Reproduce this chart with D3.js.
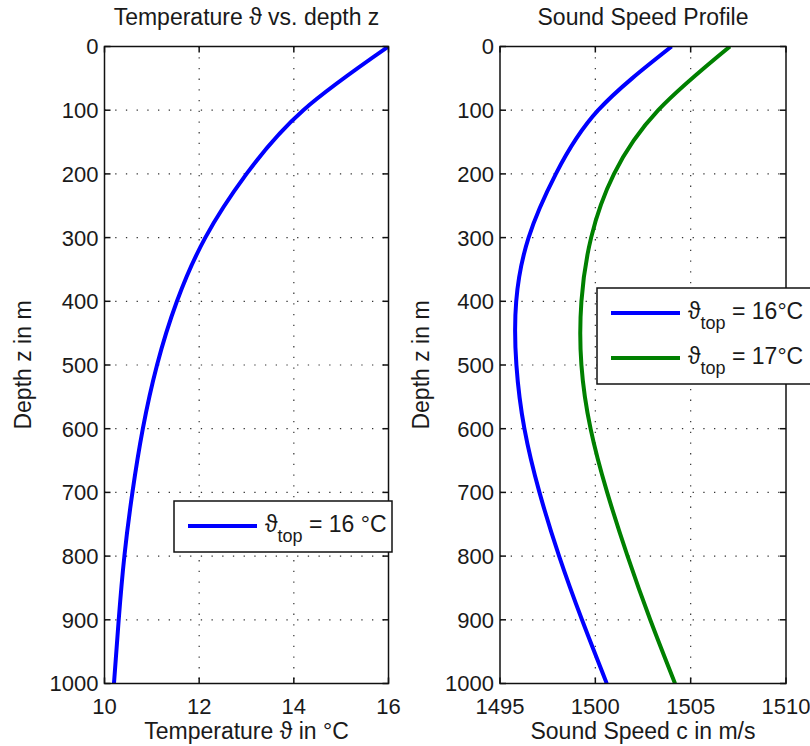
<!DOCTYPE html>
<html>
<head>
<meta charset="utf-8">
<script src="https://cdn.jsdelivr.net/npm/d3@7"></script>
<style>
  html, body { margin: 0; padding: 0; background: #fff; }
  svg text { font-family: "Liberation Sans", Arial, Helvetica, "DejaVu Sans", sans-serif; fill: #1a1a1a; }
</style>
</head>
<body>
<script>
// depth samples (m) and the values
const depth = [0, 100, 200, 300, 400, 500, 600, 700, 800, 900, 1000];
const tempTop16 = [16, 14.2, 13.0, 12.13, 11.53, 11.11, 10.81, 10.59, 10.42, 10.3, 10.2];
const speedTop16 = [1504.0, 1500.15, 1497.93, 1496.5, 1495.85, 1495.86, 1496.28, 1497.07, 1498.1, 1499.3, 1500.6];
const speedTop17 = [1507.06, 1503.3, 1500.98, 1499.78, 1499.27, 1499.27, 1499.75, 1500.62, 1501.69, 1502.88, 1504.18];

const depthTicks = [0, 100, 200, 300, 400, 500, 600, 700, 800, 900, 1000];
const tempTicks = [10, 12, 14, 16];
const speedTicks = [1495, 1500, 1505, 1510];

const width = 810, height = 746;
const plotTop = 46.5, plotBottom = 683.5;
const tickLen = 6;

const svg = d3.select("body").append("svg")
  .attr("width", width)
  .attr("height", height);

function drawPanel({ left, right, domain, xTicks, title, xLabel, yLabelX, series, id }) {
  const x = d3.scaleLinear().domain(domain).range([left, right]);
  const y = d3.scaleLinear().domain([0, 1000]).range([plotTop, plotBottom]);
  const g = svg.append("g");

  // dotted grid
  g.append("g").selectAll("line")
    .data(xTicks.slice(1, -1))
    .join("line")
    .attr("x1", d => x(d)).attr("x2", d => x(d))
    .attr("y1", plotTop).attr("y2", plotBottom)
    .attr("stroke", "#333").attr("stroke-width", 1.2)
    .attr("stroke-dasharray", "1.3,9.4");
  g.append("g").selectAll("line")
    .data(depthTicks.slice(1, -1))
    .join("line")
    .attr("x1", left).attr("x2", right)
    .attr("y1", d => y(d)).attr("y2", d => y(d))
    .attr("stroke", "#333").attr("stroke-width", 1.2)
    .attr("stroke-dasharray", "1.3,9.4");

  // clip the curves to the axes box
  svg.append("clipPath").attr("id", id)
    .append("rect")
    .attr("x", left).attr("y", plotTop)
    .attr("width", right - left).attr("height", plotBottom - plotTop);

  // evenly spaced depths, so a natural spline keeps y linear
  const line = d3.line()
    .x(d => x(d[1]))
    .y(d => y(d[0]))
    .curve(d3.curveNatural);

  series.forEach(s => {
    g.append("path")
      .datum(depth.map((z, i) => [z, s.values[i]]))
      .attr("clip-path", `url(#${id})`)
      .attr("fill", "none")
      .attr("stroke", s.color)
      .attr("stroke-width", 4)
      .attr("stroke-linejoin", "round")
      .attr("d", line);
  });

  // box and inward ticks on all four sides
  g.append("rect")
    .attr("x", left).attr("y", plotTop)
    .attr("width", right - left).attr("height", plotBottom - plotTop)
    .attr("fill", "none").attr("stroke", "#111").attr("stroke-width", 1.5);

  const ticks = g.append("g").attr("stroke", "#111").attr("stroke-width", 1.5);
  xTicks.forEach(t => {
    ticks.append("line").attr("x1", x(t)).attr("x2", x(t)).attr("y1", plotBottom).attr("y2", plotBottom - tickLen);
    ticks.append("line").attr("x1", x(t)).attr("x2", x(t)).attr("y1", plotTop).attr("y2", plotTop + tickLen);
  });
  depthTicks.forEach(t => {
    ticks.append("line").attr("x1", left).attr("x2", left + tickLen).attr("y1", y(t)).attr("y2", y(t));
    ticks.append("line").attr("x1", right).attr("x2", right - tickLen).attr("y1", y(t)).attr("y2", y(t));
  });

  // tick labels
  g.append("g").selectAll("text")
    .data(depthTicks)
    .join("text")
    .attr("x", left - 6)
    .attr("y", d => y(d))
    .attr("dy", "0.36em")
    .attr("text-anchor", "end")
    .attr("font-size", 22)
    .text(d => d);
  g.append("g").selectAll("text")
    .data(xTicks)
    .join("text")
    .attr("x", d => x(d))
    .attr("y", 714)
    .attr("text-anchor", "middle")
    .attr("font-size", 22)
    .text(d => d);

  // title and axis labels
  g.append("text")
    .attr("x", (left + right) / 2).attr("y", 25)
    .attr("text-anchor", "middle").attr("font-size", 23)
    .text(title);
  g.append("text")
    .attr("x", (left + right) / 2).attr("y", 739)
    .attr("text-anchor", "middle").attr("font-size", 23)
    .text(xLabel);
  g.append("text")
    .attr("transform", `translate(${yLabelX},${(plotTop + plotBottom) / 2}) rotate(-90)`)
    .attr("text-anchor", "middle").attr("font-size", 23)
    .text("Depth z in m");

  return g;
}

// legend: box plus one row per entry, theta with a "top" subscript
function drawLegend(g, { x0, y0, w, h, rows }) {
  g.append("rect")
    .attr("x", x0).attr("y", y0).attr("width", w).attr("height", h)
    .attr("fill", "#fff").attr("stroke", "#111").attr("stroke-width", 1.5);
  rows.forEach(r => {
    g.append("line")
      .attr("x1", x0 + 14).attr("x2", x0 + 83)
      .attr("y1", r.y).attr("y2", r.y)
      .attr("stroke", r.color).attr("stroke-width", 4);
    const t = g.append("text")
      .attr("x", x0 + 91).attr("y", r.y + 6)
      .attr("font-size", 23);
    t.append("tspan").text("\u03D1");
    t.append("tspan").attr("font-size", 18).attr("dy", 10).text("top");
    t.append("tspan").attr("dy", -10).text(r.label);
  });
}

const leftPanel = drawPanel({
  id: "clip-temp",
  left: 104.5, right: 388.5,
  domain: [10, 16],
  xTicks: tempTicks,
  title: "Temperature \u03D1 vs. depth z",
  xLabel: "Temperature \u03D1 in  \u00B0C",
  yLabelX: 31,
  series: [{ values: tempTop16, color: "#0000ff" }]
});
drawLegend(leftPanel, {
  x0: 174, y0: 501, w: 218, h: 51,
  rows: [{ y: 526, color: "#0000ff", label: " = 16 \u00B0C" }]
});

const rightPanel = drawPanel({
  id: "clip-speed",
  left: 500, right: 786,
  domain: [1495, 1510],
  xTicks: speedTicks,
  title: "Sound Speed Profile",
  xLabel: "Sound Speed c in m/s",
  yLabelX: 429,
  series: [
    { values: speedTop16, color: "#0000ff" },
    { values: speedTop17, color: "#008000" }
  ]
});
drawLegend(rightPanel, {
  x0: 597, y0: 288, w: 230, h: 96,
  rows: [
    { y: 313, color: "#0000ff", label: " = 16\u00B0C" },
    { y: 358, color: "#008000", label: " = 17\u00B0C" }
  ]
});
</script>
</body>
</html>
